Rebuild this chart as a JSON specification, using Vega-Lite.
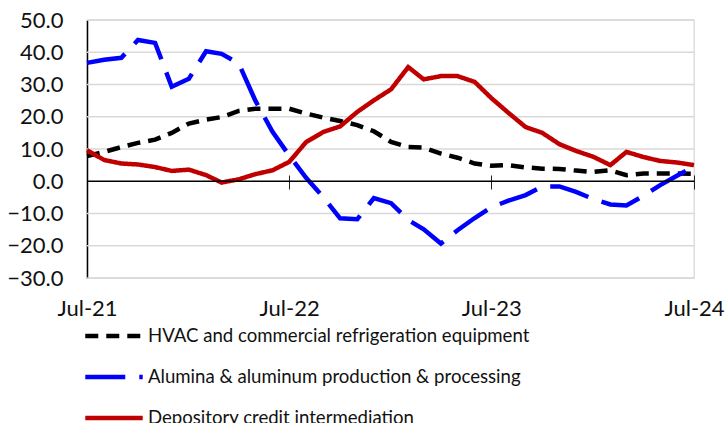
{
  "$schema": "https://vega.github.io/schema/vega-lite/v6.json",
  "autosize": {"type": "none"},
  "padding": {"left": 87, "top": 20, "right": 31, "bottom": 145},
  "width": 607,
  "height": 258,
  "background": "white",
  "config": {
    "font": "Lato",
    "view": {"stroke": "#d9d9d9", "strokeWidth": 1.3},
    "axis": {"labelFont": "Lato", "labelFontSize": 22, "labelColor": "#111111"},
    "legend": {"labelFont": "Lato", "labelFontSize": 18.6, "labelColor": "#111111"}
  },
  "resolve": {"axis": {"x": "independent", "y": "independent"}},
  "layer": [
    {
      "data": {"values": [{"g": -30}, {"g": -20}, {"g": -10}, {"g": 10}, {"g": 20}, {"g": 30}, {"g": 40}, {"g": 50}]},
      "mark": {"type": "rule", "color": "#d9d9d9", "strokeWidth": 1.3},
      "encoding": {
        "y": {"field": "g", "type": "quantitative", "axis": null}
      }
    },
    {
      "data": {"values": [
        {"m": "2021-07-01", "hvac": 7.8, "alum": 36.7, "dep": 9.6},
        {"m": "2021-08-01", "hvac": 9.1, "alum": 37.7, "dep": 6.6},
        {"m": "2021-09-01", "hvac": 10.6, "alum": 38.3, "dep": 5.5},
        {"m": "2021-10-01", "hvac": 11.9, "alum": 43.8, "dep": 5.2},
        {"m": "2021-11-01", "hvac": 12.9, "alum": 42.9, "dep": 4.4},
        {"m": "2021-12-01", "hvac": 15.0, "alum": 29.3, "dep": 3.2},
        {"m": "2022-01-01", "hvac": 17.9, "alum": 31.8, "dep": 3.6},
        {"m": "2022-02-01", "hvac": 19.1, "alum": 40.3, "dep": 1.9},
        {"m": "2022-03-01", "hvac": 19.9, "alum": 39.5, "dep": -0.4},
        {"m": "2022-04-01", "hvac": 21.8, "alum": 36.5, "dep": 0.6},
        {"m": "2022-05-01", "hvac": 22.5, "alum": 25.0, "dep": 2.2},
        {"m": "2022-06-01", "hvac": 22.5, "alum": 15.3, "dep": 3.4},
        {"m": "2022-07-01", "hvac": 22.5, "alum": 8.0, "dep": 6.0},
        {"m": "2022-08-01", "hvac": 21.0, "alum": 1.0, "dep": 12.2},
        {"m": "2022-09-01", "hvac": 19.7, "alum": -5.0, "dep": 15.3},
        {"m": "2022-10-01", "hvac": 18.7, "alum": -11.5, "dep": 17.0},
        {"m": "2022-11-01", "hvac": 17.4, "alum": -11.8, "dep": 21.5},
        {"m": "2022-12-01", "hvac": 15.5, "alum": -5.2, "dep": 25.1},
        {"m": "2023-01-01", "hvac": 12.2, "alum": -6.8, "dep": 28.5},
        {"m": "2023-02-01", "hvac": 10.6, "alum": -12.0, "dep": 35.4},
        {"m": "2023-03-01", "hvac": 10.4, "alum": -14.9, "dep": 31.6},
        {"m": "2023-04-01", "hvac": 8.6, "alum": -19.3, "dep": 32.6},
        {"m": "2023-05-01", "hvac": 7.3, "alum": -15.2, "dep": 32.6},
        {"m": "2023-06-01", "hvac": 5.5, "alum": -11.4, "dep": 30.8},
        {"m": "2023-07-01", "hvac": 4.8, "alum": -8.1, "dep": 25.8},
        {"m": "2023-08-01", "hvac": 5.0, "alum": -6.0, "dep": 21.2},
        {"m": "2023-09-01", "hvac": 4.3, "alum": -4.3, "dep": 16.8},
        {"m": "2023-10-01", "hvac": 3.9, "alum": -1.6, "dep": 15.0},
        {"m": "2023-11-01", "hvac": 3.8, "alum": -1.6, "dep": 11.5},
        {"m": "2023-12-01", "hvac": 3.3, "alum": -3.3, "dep": 9.4},
        {"m": "2024-01-01", "hvac": 2.9, "alum": -5.5, "dep": 7.6},
        {"m": "2024-02-01", "hvac": 3.4, "alum": -7.2, "dep": 5.0},
        {"m": "2024-03-01", "hvac": 1.9, "alum": -7.5, "dep": 9.1},
        {"m": "2024-04-01", "hvac": 2.4, "alum": -4.5, "dep": 7.5},
        {"m": "2024-05-01", "hvac": 2.4, "alum": -1.2, "dep": 6.3},
        {"m": "2024-06-01", "hvac": 2.4, "alum": 1.8, "dep": 5.8},
        {"m": "2024-07-01", "hvac": 2.3, "alum": 4.5, "dep": 5.0}
      ]},
      "transform": [
        {"fold": ["hvac", "alum", "dep"], "as": ["key", "value"]},
        {"lookup": "key", "from": {"data": {"values": [
          {"key": "hvac", "series": "HVAC and commercial refrigeration equipment"},
          {"key": "alum", "series": "Alumina & aluminum production & processing"},
          {"key": "dep", "series": "Depository credit intermediation"}
        ]}, "key": "key", "fields": ["series"]}}
      ],
      "layer": [
        {
          "mark": {"type": "line", "strokeWidth": 4.5, "strokeJoin": "miter"},
          "encoding": {
            "x": {"field": "m", "type": "temporal",
              "scale": {"domain": ["2021-07-01", "2024-07-01"]},
              "axis": {"orient": "bottom", "domain": false, "ticks": false, "grid": false,
                "labelPadding": 20, "format": "%b-%y", "labelFlush": false, "title": null,
                "values": ["2021-07-01", "2022-07-01", "2023-07-01", "2024-07-01"]}},
            "y": {"field": "value", "type": "quantitative",
              "scale": {"domain": [-30, 50], "nice": false},
              "axis": {"title": null, "values": [-30, -20, -10, 0, 10, 20, 30, 40, 50], "format": ".1f",
                "ticks": false, "labelPadding": 24, "labelOverlap": false, "domainColor": "#000000", "domainWidth": 1.5,
                "grid": false}},
            "color": {"field": "series", "type": "nominal",
              "scale": {"domain": ["HVAC and commercial refrigeration equipment", "Alumina & aluminum production & processing", "Depository credit intermediation"],
                "range": ["#000000", "#0000ff", "#c00000"]},
              "legend": {"title": null, "orient": "none", "legendX": -4, "legendY": 285, "direction": "vertical",
                "symbolType": "stroke", "symbolSize": 3300, "symbolStrokeWidth": 4.5, "rowPadding": -2, "labelOffset": 3, "labelLimit": 600}},
            "strokeDash": {"field": "series", "type": "nominal",
              "scale": {"domain": ["HVAC and commercial refrigeration equipment", "Alumina & aluminum production & processing", "Depository credit intermediation"],
                "range": [[13, 8], [40, 14], [1, 0]]},
              "legend": {"title": null, "orient": "none", "legendX": -4, "legendY": 285, "direction": "vertical",
                "symbolType": "stroke", "symbolSize": 3300, "symbolStrokeWidth": 4.5, "rowPadding": -2, "labelOffset": 3, "labelLimit": 600}}
          }
        },
        {
          "mark": {"type": "line", "color": "black", "strokeWidth": 1.3},
          "encoding": {
            "x": {"field": "m", "type": "temporal",
              "axis": {"orient": "bottom", "offset": -103, "labels": false, "domain": false, "grid": false, "title": null,
                "ticks": true, "tickSize": 14, "tickColor": "#222222", "tickWidth": 1,
                "values": ["2021-07-01", "2022-07-01", "2023-07-01", "2024-07-01"]}},
            "y": {"datum": 0, "type": "quantitative", "axis": null}
          }
        }
      ],
      "resolve": {"axis": {"x": "independent", "y": "independent"}}
    }
  ]
}
